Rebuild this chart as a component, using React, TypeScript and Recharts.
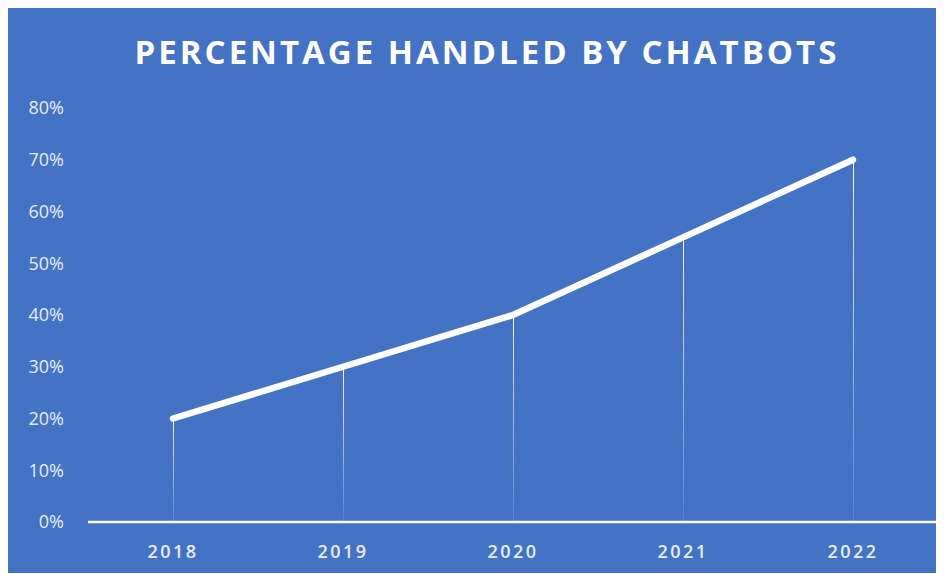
import React from 'react';
import { ComposedChart, Line, Bar, XAxis, YAxis } from 'recharts';

const years = ['2018', '2019', '2020', '2021', '2022'];
const handled = [20, 30, 40, 55, 70];
const yTicks = [0, 10, 20, 30, 40, 50, 60, 70, 80];

const data = years.map((year, i) => ({ year, value: handled[i] }));

const FONT = '"Open Sans", "Noto Sans", sans-serif';
const BLUE = '#4472C4';

export default function App() {
  return (
    <div style={{ position: 'relative', width: 936, height: 565, background: BLUE, fontFamily: FONT }}>
      <div
        style={{
          position: 'absolute',
          top: 21,
          left: 0,
          width: 958,
          textAlign: 'center',
          color: '#fff',
          fontWeight: 700,
          fontSize: 33,
          letterSpacing: 3,
        }}
      >
        PERCENTAGE HANDLED BY CHATBOTS
      </div>
      <ComposedChart
        width={936}
        height={565}
        data={data}
        margin={{ top: 100, right: 6, left: 0, bottom: 0 }}
        style={{ position: 'absolute', top: 0, left: 0 }}
      >
        <defs>
          <linearGradient id="drop" x1="0" y1="0" x2="0" y2="1">
            <stop offset="0%" stopColor="#fff" stopOpacity={0.95} />
            <stop offset="100%" stopColor="#fff" stopOpacity={0.1} />
          </linearGradient>
        </defs>
        <XAxis
          dataKey="year"
          height={51}
          tickLine={false}
          tickSize={21}
          axisLine={{ stroke: '#fff', strokeWidth: 2.5 }}
          tick={{ fill: '#e8edf6', fontSize: 18, fontWeight: 600, letterSpacing: 2.5, fontFamily: FONT }}
        />
        <YAxis
          width={80}
          domain={[0, 80]}
          ticks={yTicks}
          interval={0}
          axisLine={false}
          tickLine={false}
          tickSize={22}
          tickFormatter={(v: number) => `${v}%`}
          tick={{ fill: '#e8edf6', fontSize: 18, fontWeight: 400, fontFamily: FONT }}
        />
        <Bar dataKey="value" barSize={1} fill="url(#drop)" isAnimationActive={false} />
        <Line
          dataKey="value"
          stroke="#fff"
          strokeWidth={6.5}
          strokeLinecap="round"
          dot={false}
          activeDot={false}
          isAnimationActive={false}
        />
      </ComposedChart>
    </div>
  );
}
